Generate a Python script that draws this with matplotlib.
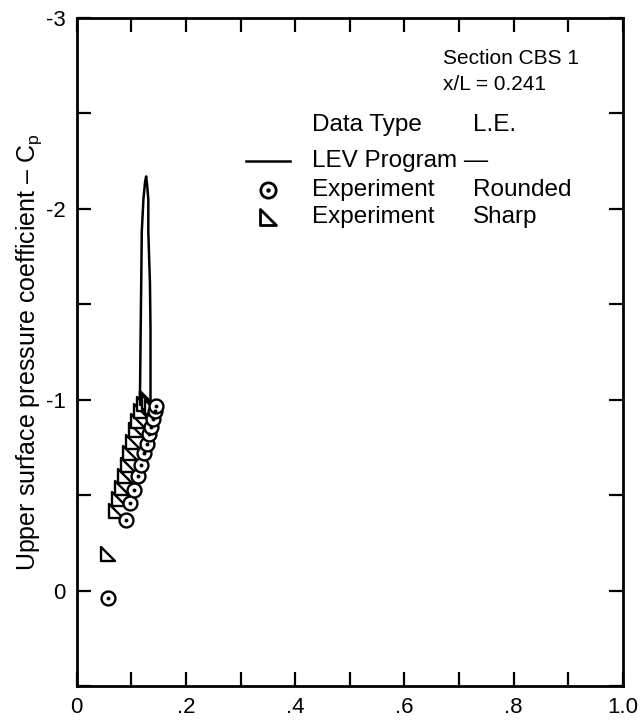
import matplotlib
matplotlib.use("Agg")
import matplotlib.pyplot as plt
from matplotlib.path import Path
from matplotlib.ticker import MultipleLocator, FixedLocator, FixedFormatter

plt.rcParams["font.family"] = ["Liberation Sans", "DejaVu Sans"]
plt.rcParams["mathtext.fontset"] = "custom"
plt.rcParams["mathtext.rm"] = "Liberation Sans"

# LEV Program curve (x, Cp)
lev_x = [0.115, 0.116, 0.117, 0.118, 0.119, 0.122, 0.125, 0.127, 0.129,
         0.131, 0.131, 0.134, 0.135, 0.135, 0.135]
lev_y = [-0.93, -1.09, -1.37, -1.61, -1.88, -2.05, -2.14, -2.17, -2.12,
         -2.05, -1.88, -1.61, -1.37, -1.09, -1.00]

# Experiment, rounded leading edge
rounded_x = [0.057, 0.090, 0.098, 0.105, 0.112, 0.118, 0.123, 0.128,
             0.132, 0.136, 0.140, 0.143, 0.145]
rounded_y = [0.04, -0.37, -0.46, -0.53, -0.60, -0.66, -0.72, -0.77,
             -0.82, -0.86, -0.90, -0.94, -0.97]

# Experiment, sharp leading edge
sharp_x = [0.057, 0.072, 0.078, 0.083, 0.088, 0.093, 0.098, 0.103,
           0.108, 0.113, 0.118, 0.123, 0.128, 0.133, 0.138]
sharp_y = [-0.19, -0.42, -0.48, -0.54, -0.60, -0.66, -0.72, -0.78,
           -0.84, -0.89, -0.94, -0.98, -1.01, -0.99, -0.96]

x_ticklabels = ["0", ".2", ".4", ".6", ".8", "1.0"]
y_ticklabels = ["-3", "-2", "-1", "0"]

tri = Path([(-1, 1), (-1, -1), (1, -1), (-1, 1)],
           [Path.MOVETO, Path.LINETO, Path.LINETO, Path.CLOSEPOLY])

fig = plt.figure(figsize=(6.4, 7.2), dpi=100)
ax = fig.add_axes([0.120, 0.047, 0.853, 0.928])

ax.plot(lev_x, lev_y, color="black", linewidth=1.8, zorder=3)
ax.plot(sharp_x, sharp_y, linestyle="none", marker=tri, markersize=10,
        markerfacecolor="white", markeredgecolor="black", markeredgewidth=1.7, zorder=4)
ax.plot(rounded_x, rounded_y, linestyle="none", marker="o", markersize=10,
        markerfacecolor="white", markeredgecolor="black", markeredgewidth=1.7, zorder=5)
ax.plot(rounded_x, rounded_y, linestyle="none", marker="o", markersize=1.8,
        color="black", zorder=6)

ax.set_xlim(0, 1.0)
ax.set_ylim(0.5, -3.0)

ax.xaxis.set_major_locator(FixedLocator([0, 0.2, 0.4, 0.6, 0.8, 1.0]))
ax.xaxis.set_major_formatter(FixedFormatter(x_ticklabels))
ax.xaxis.set_minor_locator(MultipleLocator(0.1))
ax.yaxis.set_major_locator(FixedLocator([-3, -2, -1, 0]))
ax.yaxis.set_major_formatter(FixedFormatter(y_ticklabels))
ax.yaxis.set_minor_locator(MultipleLocator(0.5))

ax.tick_params(which="both", direction="in", top=True, right=True,
               width=1.6, length=10, labelsize=16, pad=8)
for sp in ax.spines.values():
    sp.set_linewidth(2.0)

# annotation block
ax.text(0.670, -2.79, "Section CBS 1", fontsize=15, va="center")
ax.text(0.670, -2.65, "x/L = 0.241", fontsize=15, va="center")
ax.text(0.430, -2.44, "Data Type", fontsize=17.5, va="center")
ax.text(0.725, -2.44, "L.E.", fontsize=17.5, va="center")

ax.plot([0.31, 0.39], [-2.25, -2.25], color="black", linewidth=1.8)
ax.text(0.430, -2.25, "LEV Program \u2014", fontsize=17.5, va="center")

ax.plot([0.35], [-2.10], linestyle="none", marker="o", markersize=11,
        markerfacecolor="white", markeredgecolor="black", markeredgewidth=2.0)
ax.plot([0.35], [-2.10], linestyle="none", marker="o", markersize=2.2, color="black")
ax.text(0.430, -2.10, "Experiment", fontsize=17.5, va="center")
ax.text(0.725, -2.10, "Rounded", fontsize=17.5, va="center")

ax.plot([0.35], [-1.955], linestyle="none", marker=tri, markersize=12,
        markerfacecolor="white", markeredgecolor="black", markeredgewidth=2.0)
ax.text(0.430, -1.955, "Experiment", fontsize=17.5, va="center")
ax.text(0.725, -1.955, "Sharp", fontsize=17.5, va="center")

fig.text(0.045, 0.511, "Upper surface pressure coefficient \u2013 C$_{\\rm p}$",
         rotation=90, fontsize=18, ha="center", va="center")

fig.savefig("out.png", dpi=100)
